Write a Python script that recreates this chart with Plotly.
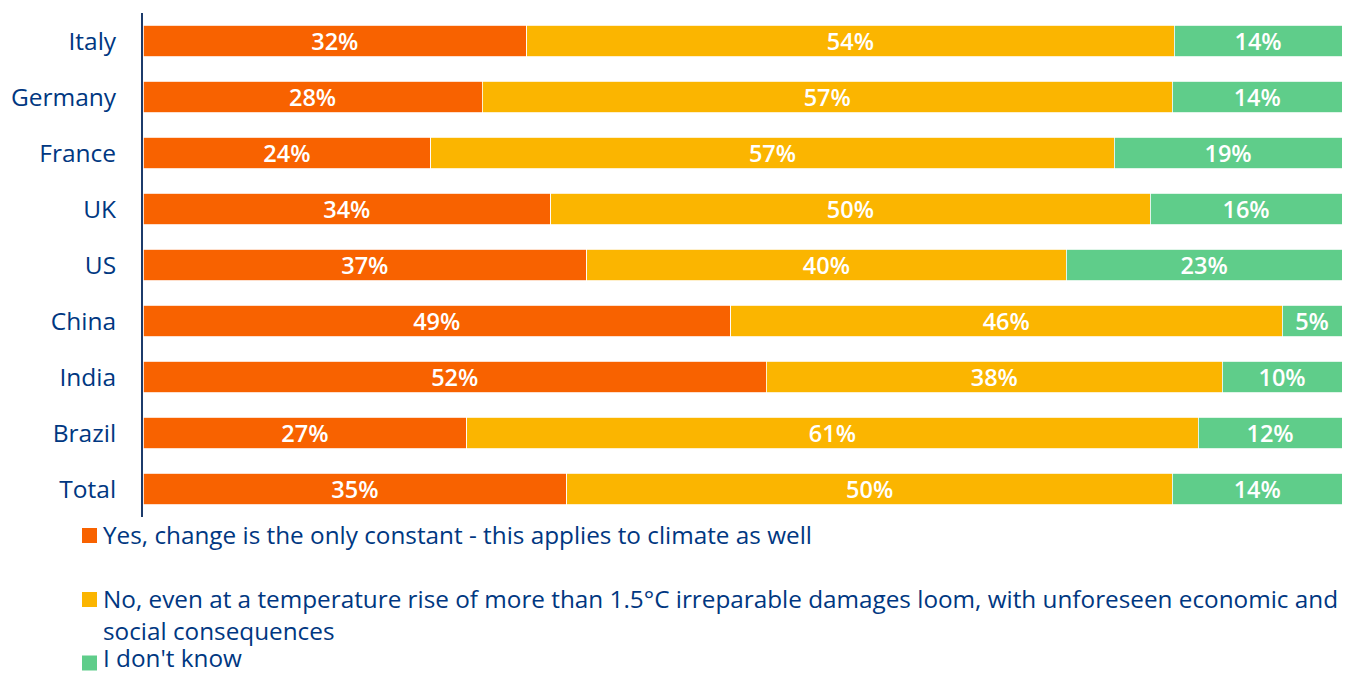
import plotly.graph_objects as go

# Survey responses by country (percent of respondents)
countries = ["Italy", "Germany", "France", "UK", "US", "China", "India", "Brazil", "Total"]
yes_change = [32, 28, 24, 34, 37, 49, 52, 27, 35]
no_damage = [54, 57, 57, 50, 40, 46, 38, 61, 50]
dont_know = [14, 14, 19, 16, 23, 5, 10, 12, 14]

series_names = [
    "Yes, change is the only constant - this applies to climate as well",
    "No, even at a temperature rise of more than 1.5°C irreparable damages loom, with unforeseen economic and",
    "social consequences",
    "I don't know",
]
colors = ["#F86200", "#FBB500", "#5FCD8A"]
navy = "#003781"
font_family = "'Open Sans', Lato, sans-serif"

# Plot-area geometry in pixels (used to place the hand-built legend)
W, H = 1349, 673
ML, MR, MT, MB = 143, 7, 13, 156
PW, PH = W - ML - MR, H - MT - MB


def px_x(p):
    return (p - ML) / PW


def px_y(p):
    return (H - MB - p) / PH


fig = go.Figure()
for vals, name, col in zip([yes_change, no_damage, dont_know],
                           [series_names[0], series_names[1], series_names[3]], colors):
    fig.add_trace(go.Bar(
        y=countries, x=vals, name=name, orientation="h",
        marker=dict(color=col, line=dict(color="white", width=0.8)),
        text=[f"{v}%" for v in vals], textposition="inside",
        insidetextanchor="middle", textangle=0,
        textfont=dict(color="white", size=23.5, family=font_family, weight=600),
        showlegend=False,
    ))

# Legend: squares and labels
legend_squares = [(colors[0], 535.5), (colors[1], 599.5), (colors[2], 663)]
shapes = []
for col, sq_y in legend_squares:
    shapes.append(dict(type="rect", xref="paper", yref="paper",
                       x0=px_x(82), x1=px_x(97), y0=px_y(sq_y + 7.5), y1=px_y(sq_y - 7.5),
                       fillcolor=col, line=dict(width=0)))
annotations = []
ys = [534, 598, 630, 657]
for t, yy in zip(series_names, ys):
    annotations.append(dict(xref="paper", yref="paper", x=px_x(101), y=px_y(yy),
                            xanchor="left", yanchor="middle",
                            text=t, showarrow=False,
                            font=dict(size=24.3, color=navy, family=font_family)))

fig.update_layout(
    barmode="stack", barnorm="percent", bargap=0.43,
    width=W, height=H,
    margin=dict(l=ML, r=MR, t=MT, b=MB),
    plot_bgcolor="white", paper_bgcolor="white",
    xaxis=dict(visible=False, range=[0, 100], fixedrange=True),
    yaxis=dict(autorange="reversed", showgrid=False, zeroline=False,
               showline=True, linecolor="#1c3b6b", linewidth=2,
               ticks="", ticklabelstandoff=20,
               tickfont=dict(size=24.5, color=navy, family=font_family)),
    shapes=shapes, annotations=annotations,
    uniformtext=dict(minsize=20, mode="show"),
)

fig.write_html("out.html")
